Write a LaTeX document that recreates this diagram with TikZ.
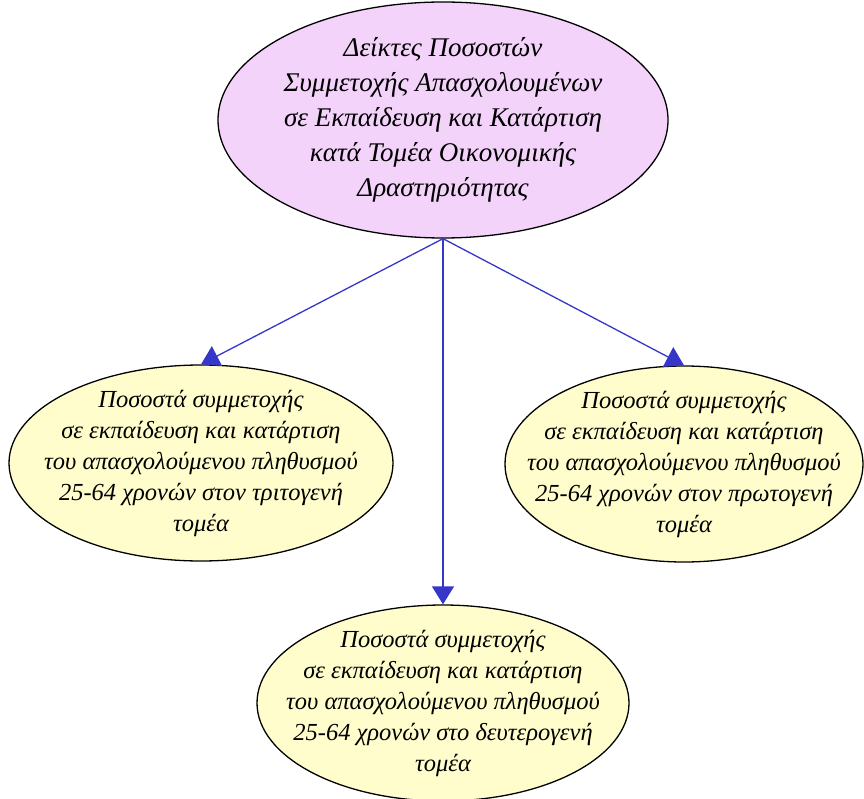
\documentclass[tikz,border=0pt]{standalone}
\usepackage{fontspec}
\setmainfont{Liberation Serif}
\usepackage{tikz}
\usetikzlibrary{arrows.meta,shapes.geometric}
\usepackage{xcolor}
\definecolor{rootfill}{HTML}{F4D3FB}
\definecolor{leaffill}{HTML}{FFFDCB}
\definecolor{link}{HTML}{3636C8}
\tikzset{
  >={Triangle[width=22pt,length=18pt]},
  every node/.style={font=\itshape,text=black},
  rootbox/.style={ellipse,draw=black,line width=1.3pt,fill=rootfill,minimum width=450pt,minimum height=236pt,align=center,inner xsep=-40pt,inner ysep=-20pt,font=\fontsize{27}{35}\selectfont\itshape},
  leafbox/.style={ellipse,draw=black,line width=1.3pt,fill=leaffill,minimum height=196pt,align=center,inner xsep=-40pt,inner ysep=-20pt,font=\fontsize{24.5}{31}\selectfont\itshape},
  arrow/.style={->,line width=1.3pt,draw=link},
}
\begin{document}
\begin{tikzpicture}[x=1pt,y=1pt]
  \useasboundingbox (0,0) rectangle (864,-799);
  \node[rootbox] (root) at (443,-120) {Δείκτες Ποσοστών\\Συμμετοχής Απασχολουμένων\\σε Εκπαίδευση και Κατάρτιση\\κατά Τομέα Οικονομικής\\Δραστηριότητας};
  \node[leafbox,minimum width=384pt] (tertiary) at (201,-463) {Ποσοστά συμμετοχής\\σε εκπαίδευση και κατάρτιση\\του απασχολούμενου πληθυσμού\\25-64 χρονών στον τριτογενή\\τομέα};
  \node[leafbox,minimum width=358pt] (primary) at (684,-464) {Ποσοστά συμμετοχής\\σε εκπαίδευση και κατάρτιση\\του απασχολούμενου πληθυσμού\\25-64 χρονών στον πρωτογενή\\τομέα};
  \node[leafbox,minimum width=372pt] (secondary) at (443,-703) {Ποσοστά συμμετοχής\\σε εκπαίδευση και κατάρτιση\\του απασχολούμενου πληθυσμού\\25-64 χρονών στο δευτερογενή\\τομέα};
  \foreach \b in {tertiary,primary,secondary}
    \draw[arrow] (root.south) -- (\b.north);
\end{tikzpicture}
\end{document}
